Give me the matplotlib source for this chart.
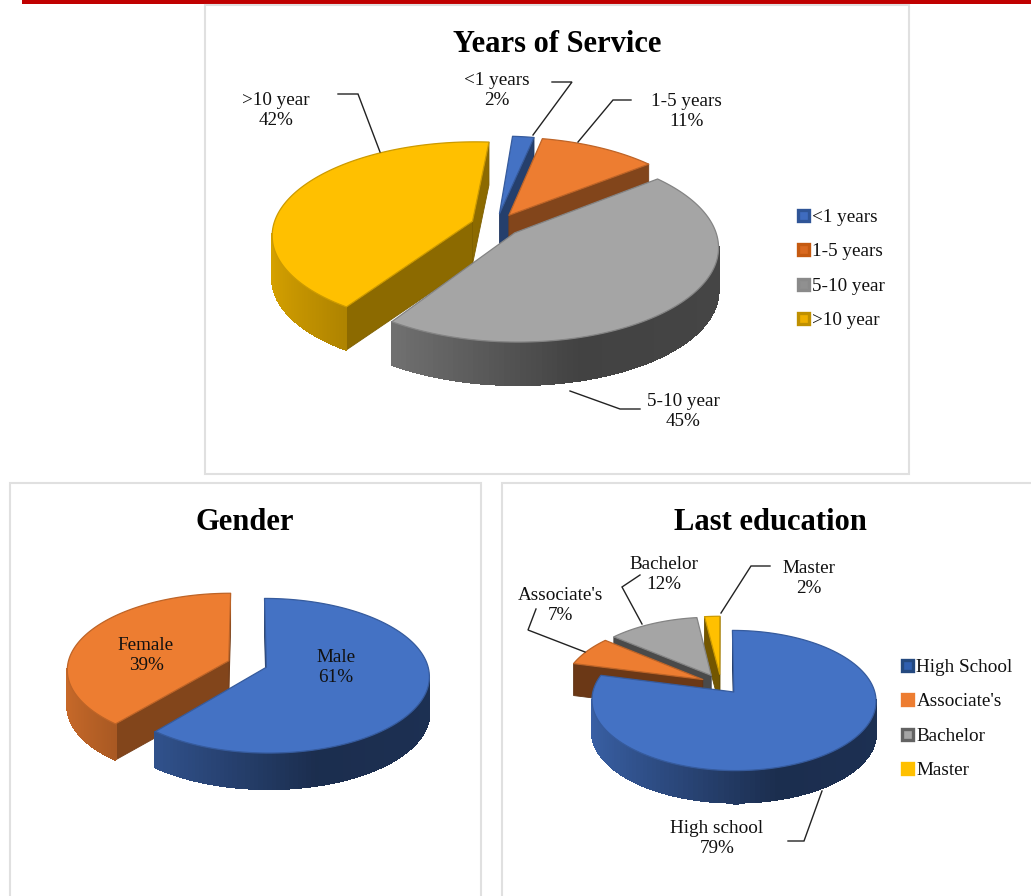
import numpy as np
import matplotlib
matplotlib.use("Agg")
import matplotlib.pyplot as plt
from matplotlib.collections import PolyCollection
from matplotlib.colors import to_rgb
from matplotlib.patches import Polygon, Rectangle

plt.rcParams["font.family"] = ["Liberation Serif", "DejaVu Serif"]

# --- data --------------------------------------------------------------------
service_names = ["<1 years", "1-5 years", "5-10 year", ">10 year"]
service_values = [2, 11, 45, 42]

gender_names = ["Male", "Female"]
gender_values = [61, 39]

edu_legend = ["High School", "Associate's", "Bachelor", "Master"]
edu_names = ["High school", "Associate's", "Bachelor", "Master"]
edu_values = [79, 7, 12, 2]

BLUE, ORANGE, GRAY, YELLOW = "#4472c4", "#ed7d31", "#a5a5a5", "#ffc000"
COLOURS = [BLUE, ORANGE, GRAY, YELLOW]
TITLE_SIZE = 22
LABEL_SIZE = 13.8


def shade(colour, f):
    return tuple(c * f for c in to_rgb(colour))


def draw_pie(ax, values, colours, cx, cy, R, k, tilt, explode, depth, rot=0.0, face=0.55):
    """Exploded 3D pie, drawn slice by slice from the back to the front."""
    edges = rot + 360.0 * np.cumsum([0] + list(values)) / sum(values)
    slices = list(zip(edges[:-1], edges[1:], colours))
    slices.sort(key=lambda s: -np.cos(np.radians((s[0] + s[1]) / 2)))
    th_r = np.degrees(np.arccos(-k))

    for a0, a1, colour in slices:
        mid = np.radians((a0 + a1) / 2)
        ex, ey = explode * np.sin(mid), explode * np.cos(mid)

        def project(theta, r):
            t = np.radians(theta)
            X = r * np.sin(t) + ex
            Y = r * np.cos(t) + ey
            s = 1.0 / (1.0 + k * Y / R)
            return np.column_stack([cx + X * s, cy - tilt * Y * s])

        thetas = np.linspace(a0, a1, 120)
        rim = project(thetas, R)
        apex = project(np.array([a0]), 0.0)[0]

        # radial faces, only when they look towards the viewer
        if rim[0, 0] < apex[0]:
            quad = [apex, rim[0], rim[0] + [0, depth], apex + [0, depth]]
            ax.add_patch(Polygon(quad, fc=shade(colour, face), ec=shade(colour, face * 0.9), lw=0.6))
        if rim[-1, 0] > apex[0]:
            quad = [apex, rim[-1], rim[-1] + [0, depth], apex + [0, depth]]
            ax.add_patch(Polygon(quad, fc=shade(colour, face), ec=shade(colour, face * 0.9), lw=0.6))

        # outer wall, with the dark gradient towards the right
        lo, hi = max(a0, th_r), min(a1, 360.0 - th_r)
        if hi > lo:
            th = np.linspace(lo, hi, 90)
            p = project(th, R)
            quads = [[p[i], p[i + 1], p[i + 1] + [0, depth], p[i] + [0, depth]] for i in range(len(p) - 1)]
            mids = np.sin(np.radians((th[:-1] + th[1:]) / 2))
            fs = np.interp(mids, [-1.0, 0.25, 1.0], [0.84, 0.40, 0.42])
            cols = [shade(colour, f) for f in fs]
            ax.add_collection(PolyCollection(quads, facecolors=cols, edgecolors=cols,
                                             linewidths=0.8, antialiaseds=False))

        # top surface
        top = np.vstack([apex, rim])
        ax.add_patch(Polygon(top, closed=True, fc=colour, ec=shade(colour, 0.8), lw=0.9, joinstyle="round"))


def draw_legend(ax, names, colours, x, ys, borders):
    for name, colour, y, border in zip(names, colours, ys, borders):
        ax.add_patch(Rectangle((x + 1.5, y - 5.5), 11, 11, fc=colour, ec=border, lw=2.4))
        ax.text(x + 16.5, y + 1.5, name, fontsize=LABEL_SIZE, ha="left", va="center", color="#111111")


def leader(ax, pts):
    pts = np.array(pts)
    ax.plot(pts[:, 0], pts[:, 1], color="#222222", lw=1.0, solid_joinstyle="miter")


def label(ax, x, y, name, value):
    ax.text(x, y + 1.5, f"{name}\n{value}%", fontsize=LABEL_SIZE, ha="center", va="center",
            linespacing=1.3, color="#111111")


fig = plt.figure(figsize=(10.31, 8.96), dpi=100)
ax = fig.add_axes([0, 0, 1, 1])
ax.set_xlim(0, 1031)
ax.set_ylim(896, 0)
ax.axis("off")

# page furniture
ax.add_patch(Rectangle((22, 0), 1009, 4, fc="#c00000", ec="none"))
for x0, y0, x1, y1 in [(205, 5, 909, 474), (10, 483, 481, 900), (502, 483, 1035, 900)]:
    ax.add_patch(Rectangle((x0, y0), x1 - x0, y1 - y0, fc="white", ec="#e0e0e0", lw=1.5))

# --- Years of Service --------------------------------------------------------
ax.text(557, 44, "Years of Service", fontsize=TITLE_SIZE, fontweight="bold", ha="center", va="center")
draw_pie(ax, service_values, COLOURS, 496, 225, 199, 0.14, 0.46, 25, 43, rot=4.5)
leader(ax, [(552, 82), (572, 82), (533, 135)])
leader(ax, [(631, 100), (613, 100), (578, 142)])
leader(ax, [(338, 94), (358, 94), (380, 152)])
leader(ax, [(570, 391), (620, 409), (640, 409)])
label(ax, 497, 89, service_names[0], service_values[0])
label(ax, 686, 110, service_names[1], service_values[1])
label(ax, 683, 410, service_names[2], service_values[2])
label(ax, 276, 109, service_names[3], service_values[3])
draw_legend(ax, service_names, ["#3f6cc0", "#d9691f", "#909090", "#eeb000"], 796, [216, 250, 285, 319],
            ["#2f5597", "#c55a11", "#8a8a8a", "#bf9000"])

# --- Gender ------------------------------------------------------------------
ax.text(245, 522, "Gender", fontsize=TITLE_SIZE, fontweight="bold", ha="center", va="center")
draw_pie(ax, gender_values, [BLUE, ORANGE], 247.5, 664, 161, 0.11, 0.47, 20, 36)
label(ax, 336, 666, gender_names[0], gender_values[0])
label(ax, 146, 654, gender_names[1], gender_values[1])

# --- Last education ----------------------------------------------------------
ax.text(770, 522, "Last education", fontsize=TITLE_SIZE, fontweight="bold", ha="center", va="center")
draw_pie(ax, edu_values, COLOURS, 721, 684, 139, 0.12, 0.483, 20.6, 32, face=0.45)
leader(ax, [(770, 566), (751, 566), (721, 613)])
leader(ax, [(640, 575), (622, 587), (642, 624)])
leader(ax, [(536, 609), (528, 630), (585, 652)])
leader(ax, [(822, 791), (804, 841), (788, 841)])
label(ax, 717, 837, edu_names[0], edu_values[0])
label(ax, 560, 604, edu_names[1], edu_values[1])
label(ax, 664, 573, edu_names[2], edu_values[2])
label(ax, 809, 577, edu_names[3], edu_values[3])
draw_legend(ax, edu_legend, ["#2f5fb0", ORANGE, "#a5a5a5", YELLOW], 900, [666, 700, 735, 769],
            ["#24497f", ORANGE, "#636363", YELLOW])

fig.savefig("out.png", dpi=100)
